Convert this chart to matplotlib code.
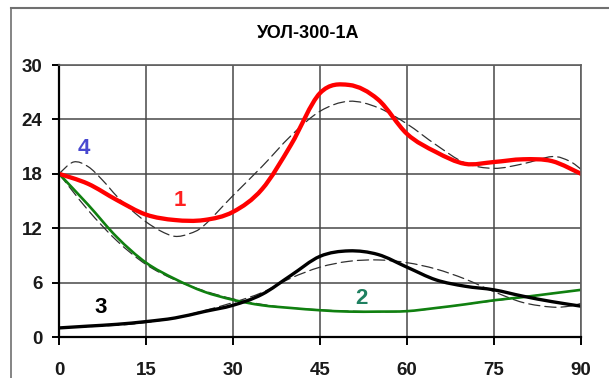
import numpy as np
import matplotlib
matplotlib.use("Agg")
import matplotlib.pyplot as plt
from matplotlib.path import Path
from matplotlib.patches import PathPatch
from matplotlib.lines import Line2D

plt.rcParams['font.family'] = ['Liberation Sans', 'DejaVu Sans']

title = "УОЛ-300-1А"

# curve 1 (red) and its dashed companion
x1 = [0, 5, 10, 15, 20, 25, 30, 35, 40, 45, 50, 55, 60, 65, 70, 75, 80, 85, 90]
y1 = [18, 16.9, 15.1, 13.5, 12.9, 12.9, 13.8, 16.3, 21.2, 26.9, 27.8, 26.2, 22.4, 20.4, 19.1, 19.3, 19.6, 19.4, 18.0]
x1d = [0, 2.5, 5, 7.5, 10, 12.5, 15, 17.5, 20, 22.5, 25, 30, 35, 40, 45, 50, 55, 60, 65, 70, 75, 80, 85, 88, 90]
y1d = [18, 19.3, 18.8, 17.3, 15.5, 14.0, 12.7, 11.7, 11.1, 11.4, 12.3, 15.6, 18.8, 22.2, 24.9, 26.0, 25.3, 23.5, 21.2, 19.2, 18.6, 19.1, 19.9, 19.4, 18.5]

# curve 2 (green)
x2 = [0, 5, 10, 15, 20, 25, 30, 35, 40, 45, 50, 55, 60, 65, 70, 75, 80, 85, 90]
y2 = [18, 14.6, 11.0, 8.2, 6.4, 5.0, 4.1, 3.5, 3.2, 2.95, 2.8, 2.8, 2.85, 3.2, 3.6, 4.05, 4.4, 4.8, 5.2]
x2d = [0, 5, 10, 15, 20, 25, 30, 35, 40, 50, 60, 70, 80, 90]
y2d = [18, 14.0, 10.6, 8.0, 6.3, 5.1, 4.2, 3.6, 3.2, 2.85, 2.85, 3.6, 4.4, 5.2]

# curve 3 (black)
x3 = [0, 5, 10, 15, 20, 25, 30, 35, 40, 45, 50, 55, 60, 65, 70, 75, 80, 85, 90]
y3 = [1.0, 1.2, 1.4, 1.7, 2.1, 2.8, 3.5, 4.7, 6.8, 8.9, 9.5, 9.1, 7.7, 6.3, 5.6, 5.2, 4.5, 3.9, 3.4]
x3d = [0, 10, 15, 20, 25, 30, 35, 40, 45, 50, 55, 60, 65, 70, 75, 80, 85, 88, 90]
y3d = [1.0, 1.3, 1.6, 2.1, 2.9, 3.8, 4.9, 6.5, 7.7, 8.35, 8.5, 8.2, 7.5, 6.4, 5.0, 3.8, 3.3, 3.4, 3.7]

xticks = [0, 15, 30, 45, 60, 75, 90]
yticks = [0, 6, 12, 18, 24, 30]


def smooth_path(x, y):
    # Excel-style smoothed line: Catmull-Rom segments as cubic Bezier
    p = np.column_stack([x, y]).astype(float)
    n = len(p)
    verts = [p[0]]
    codes = [Path.MOVETO]
    for i in range(n - 1):
        p0 = p[i - 1] if i > 0 else p[i]
        p3 = p[i + 2] if i + 2 < n else p[i + 1]
        c1 = p[i] + (p[i + 1] - p0) / 6
        c2 = p[i + 1] - (p3 - p[i]) / 6
        verts += [c1, c2, p[i + 1]]
        codes += [Path.CURVE4] * 3
    return Path(verts, codes)


def draw(ax, x, y, **kw):
    ax.add_patch(PathPatch(smooth_path(x, y), fill=False, capstyle='round',
                           joinstyle='round', **kw))


fig = plt.figure(figsize=(6.09, 3.78), dpi=100)
ax = fig.add_axes([59 / 609, 41 / 378, 522 / 609, 272 / 378])

# outer chart frame
fig.add_artist(Line2D([11 / 609, 1], [1 - 8 / 378, 1 - 8 / 378], color='#707070', lw=1.5))
fig.add_artist(Line2D([11 / 609, 11 / 609], [0, 1 - 8 / 378], color='#707070', lw=1.2))

ax.set_xlim(0, 90)
ax.set_ylim(0, 30)
ax.set_xticks(xticks)
ax.set_yticks(yticks)
ax.grid(True, color='#484848', lw=1.1)
ax.set_axisbelow(True)
for s in ['top', 'right']:
    ax.spines[s].set_color('#606060')
    ax.spines[s].set_linewidth(1.2)
for s in ['left', 'bottom']:
    ax.spines[s].set_color('black')
    ax.spines[s].set_linewidth(1.6)
ax.tick_params(axis='y', length=5, width=1.4, pad=7, labelsize=13.5, labelcolor='#1a1a1a')
ax.tick_params(axis='x', length=6, width=1.4, pad=12, labelsize=13.5, labelcolor='#1a1a1a')
for lab in ax.get_xticklabels() + ax.get_yticklabels():
    lab.set_fontweight('bold')

dash = dict(color='#303030', lw=0.9, linestyle=(0, (9, 4)))
draw(ax, x2d, y2d, **dash)
draw(ax, x3d, y3d, **dash)
draw(ax, x1d, y1d, **dash)
draw(ax, x2, y2, color='#108010', lw=1.9)
draw(ax, x3, y3, color='black', lw=2.4)
draw(ax, x1, y1, color='#ff0000', lw=3.1)

lab_kw = dict(fontsize=16, fontweight='bold', ha='center', va='center')
ax.text(20.9, 15.1, "1", color='#ff2020', **lab_kw)
ax.text(52.2, 4.3, "2", color='#1f8060', **lab_kw)
ax.text(7.1, 3.2, "3", color='black', **lab_kw)
ax.text(4.2, 20.8, "4", color='#4848d0', **lab_kw)

fig.text(308 / 609, 1 - 33 / 378, title, ha='center', va='center', fontsize=13, fontweight='bold')

fig.savefig("out.png", dpi=100)
